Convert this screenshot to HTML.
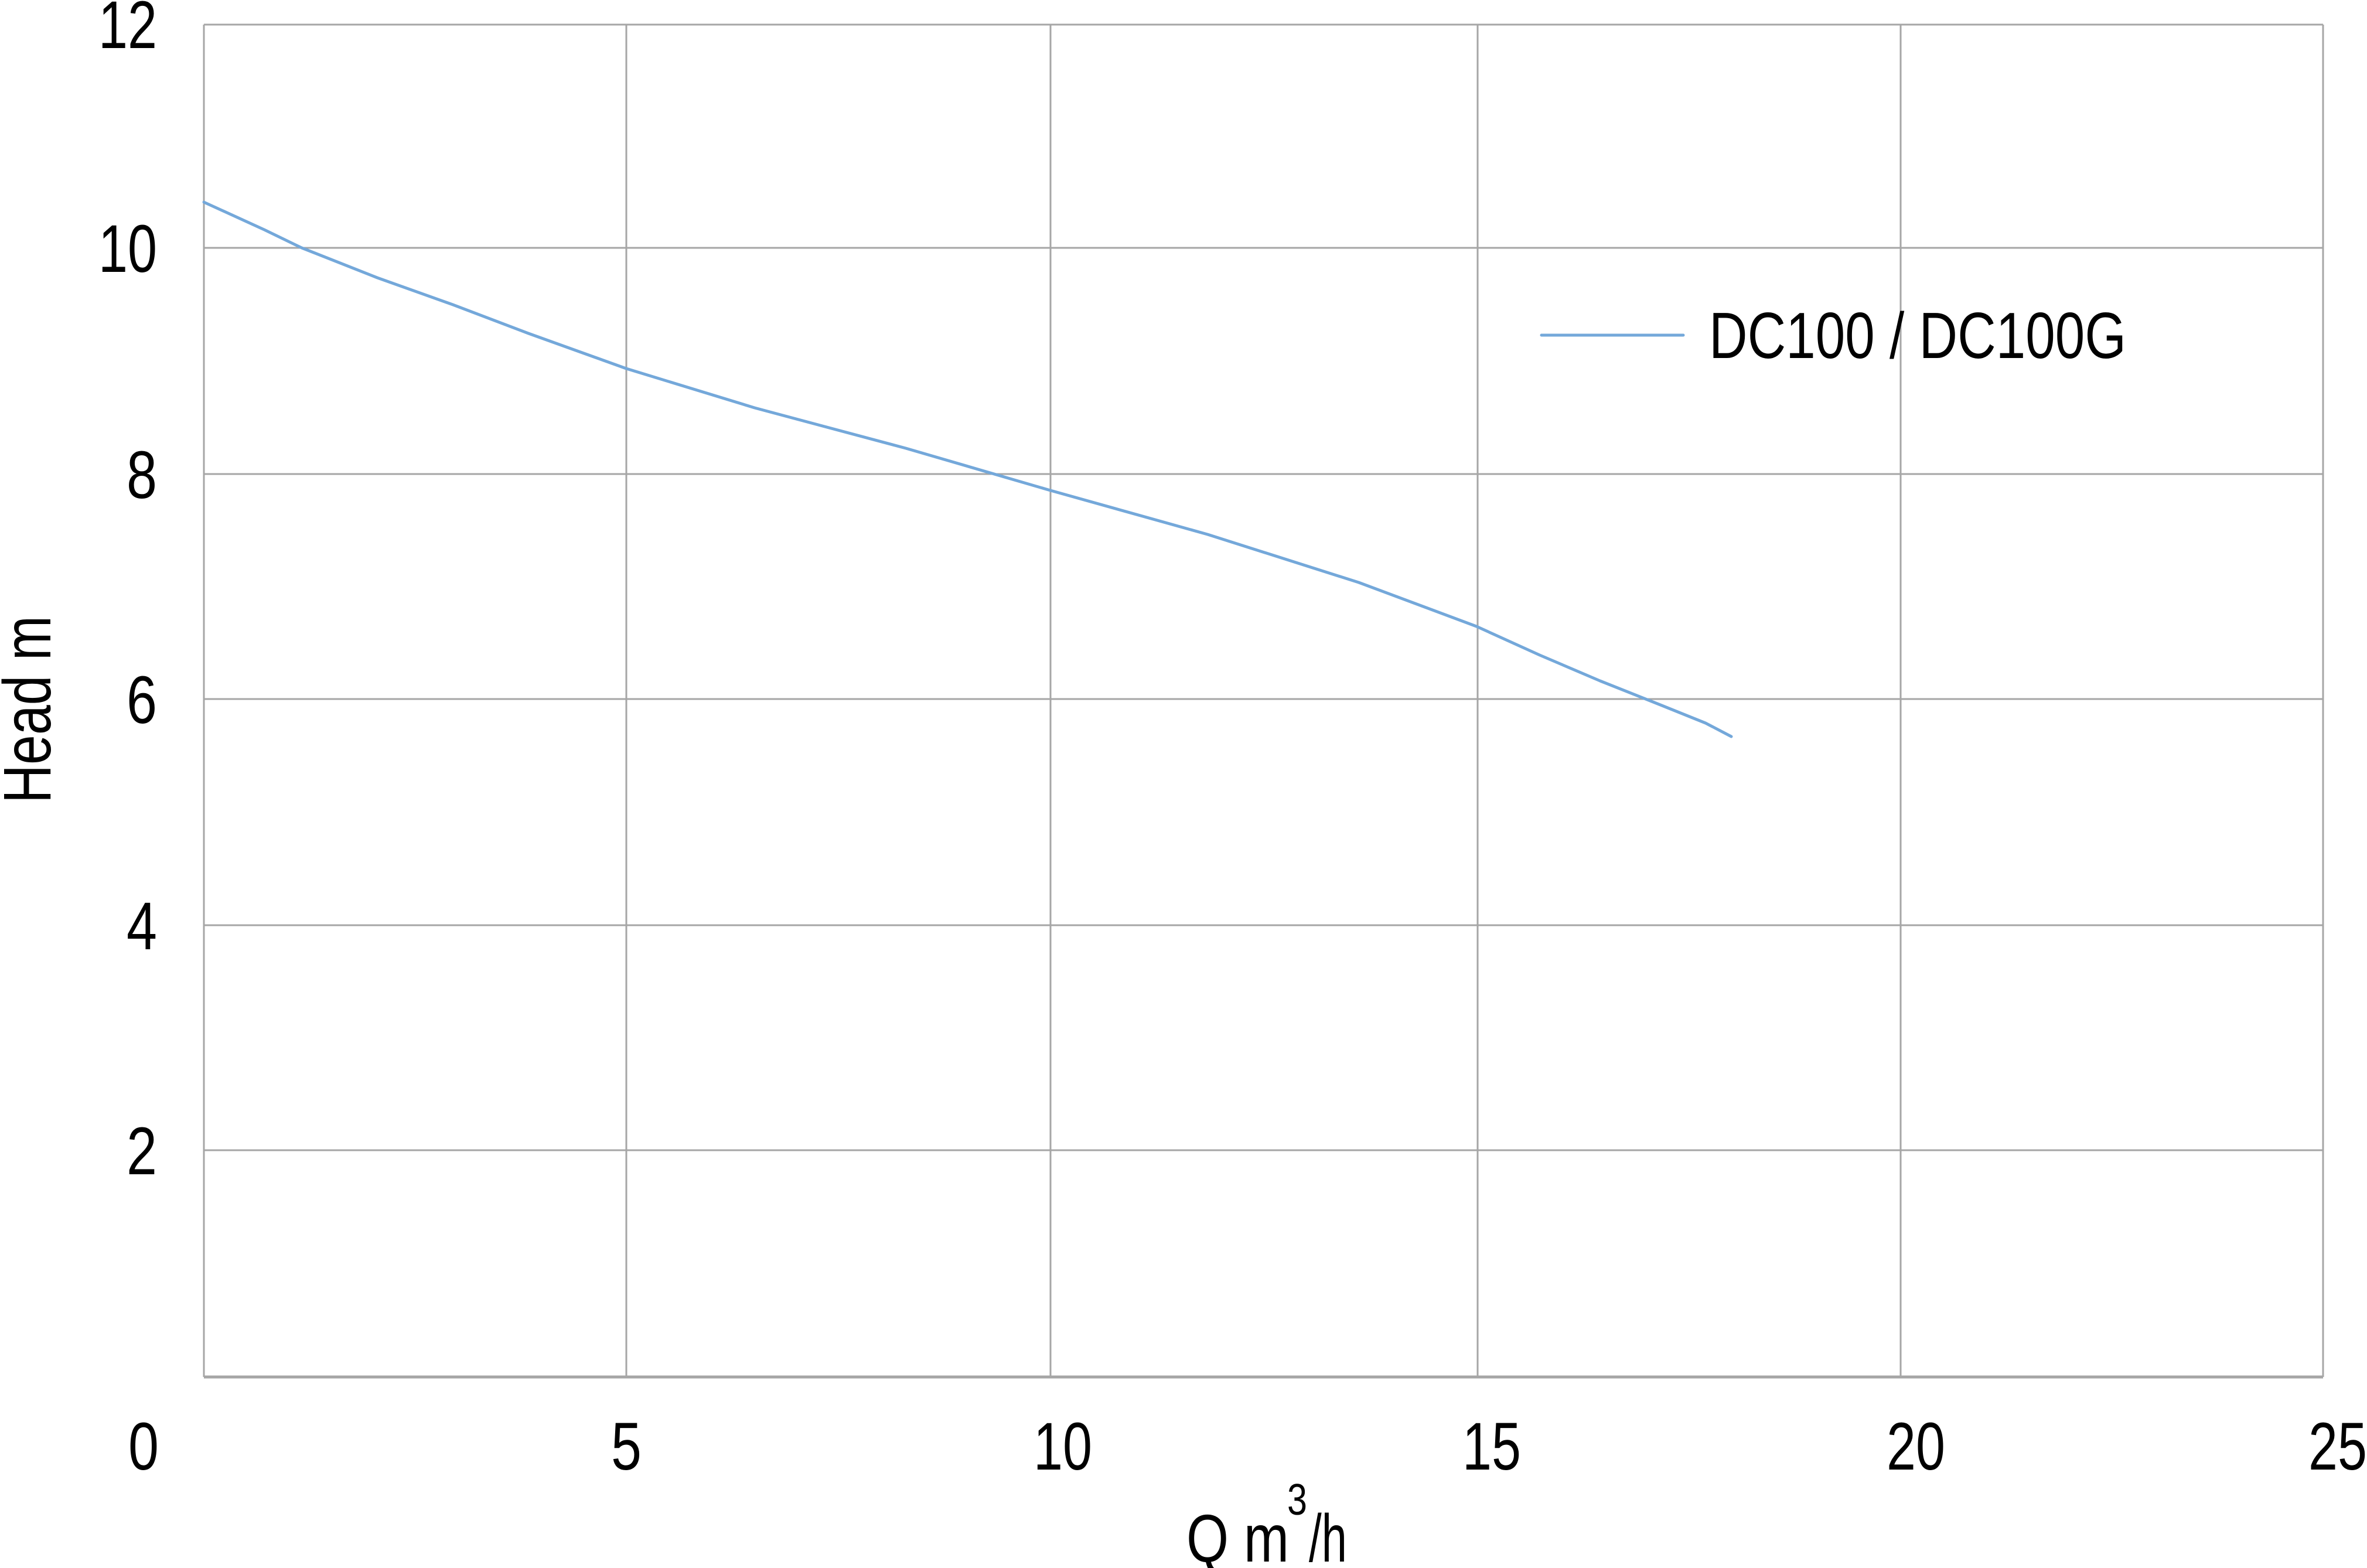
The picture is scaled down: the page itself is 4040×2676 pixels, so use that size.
<!DOCTYPE html>
<html><head><meta charset="utf-8"><style>
html,body{margin:0;padding:0;background:#fff;}
svg{display:block;}
text{font-family:"Liberation Sans",Arial,sans-serif;fill:#000;}
</style></head><body>
<svg width="4040" height="2676" viewBox="0 0 4040 2676" xmlns="http://www.w3.org/2000/svg">
<g stroke="#a6a6a6" stroke-width="3" fill="none">
<line x1="348" y1="42" x2="3965" y2="42"/>
<line x1="348" y1="423" x2="3965" y2="423"/>
<line x1="348" y1="809" x2="3965" y2="809"/>
<line x1="348" y1="1193" x2="3965" y2="1193"/>
<line x1="348" y1="1579" x2="3965" y2="1579"/>
<line x1="348" y1="1963" x2="3965" y2="1963"/>
<line x1="348" y1="2350" x2="3965" y2="2350" stroke-width="5"/>
<line x1="348" y1="42" x2="348" y2="2350"/>
<line x1="1069" y1="42" x2="1069" y2="2350"/>
<line x1="1793" y1="42" x2="1793" y2="2350"/>
<line x1="2522" y1="42" x2="2522" y2="2350"/>
<line x1="3244" y1="42" x2="3244" y2="2350"/>
<line x1="3965" y1="42" x2="3965" y2="2350"/>
</g>
<path d="M348,345 L451,392 L515,423 L644,474 L773,520 L902,569 L1069,629 L1288,696 L1546,765 L1793,837 L2061,912 L2319,994 L2520,1069 L2628,1118 L2731,1162 L2834,1203 L2911,1234 L2955,1257" fill="none" stroke="#74a8da" stroke-width="5" stroke-linejoin="round" stroke-linecap="round"/>
<line x1="2631" y1="572" x2="2873" y2="572" stroke="#74a8da" stroke-width="5" stroke-linecap="round"/>
<text x="2917" y="611" font-size="111" textLength="712" lengthAdjust="spacingAndGlyphs">DC100 / DC100G</text>
<g font-size="115" text-anchor="end">
<text x="268" y="82" textLength="100" lengthAdjust="spacingAndGlyphs">12</text>
<text x="268" y="464" textLength="100" lengthAdjust="spacingAndGlyphs">10</text>
<text x="268" y="850" textLength="52" lengthAdjust="spacingAndGlyphs">8</text>
<text x="268" y="1234" textLength="52" lengthAdjust="spacingAndGlyphs">6</text>
<text x="268" y="1620" textLength="52" lengthAdjust="spacingAndGlyphs">4</text>
<text x="268" y="2004" textLength="52" lengthAdjust="spacingAndGlyphs">2</text>
</g>
<g font-size="115">
<text x="219" y="2508" textLength="52" lengthAdjust="spacingAndGlyphs">0</text>
<text x="1043" y="2508" textLength="52" lengthAdjust="spacingAndGlyphs">5</text>
<text x="1764" y="2508" textLength="100" lengthAdjust="spacingAndGlyphs">10</text>
<text x="2496" y="2508" textLength="100" lengthAdjust="spacingAndGlyphs">15</text>
<text x="3220" y="2508" textLength="100" lengthAdjust="spacingAndGlyphs">20</text>
<text x="3940" y="2508" textLength="100" lengthAdjust="spacingAndGlyphs">25</text>
</g>
<text x="2025" y="2665" font-size="115" textLength="175" lengthAdjust="spacingAndGlyphs">Q m</text>
<text x="2197" y="2585" font-size="75" textLength="34" lengthAdjust="spacingAndGlyphs">3</text>
<text x="2234" y="2665" font-size="115" textLength="65" lengthAdjust="spacingAndGlyphs">/h</text>
<text transform="translate(86,1211) rotate(-90)" font-size="115" text-anchor="middle" textLength="320" lengthAdjust="spacingAndGlyphs">Head m</text>
</svg>
</body></html>
